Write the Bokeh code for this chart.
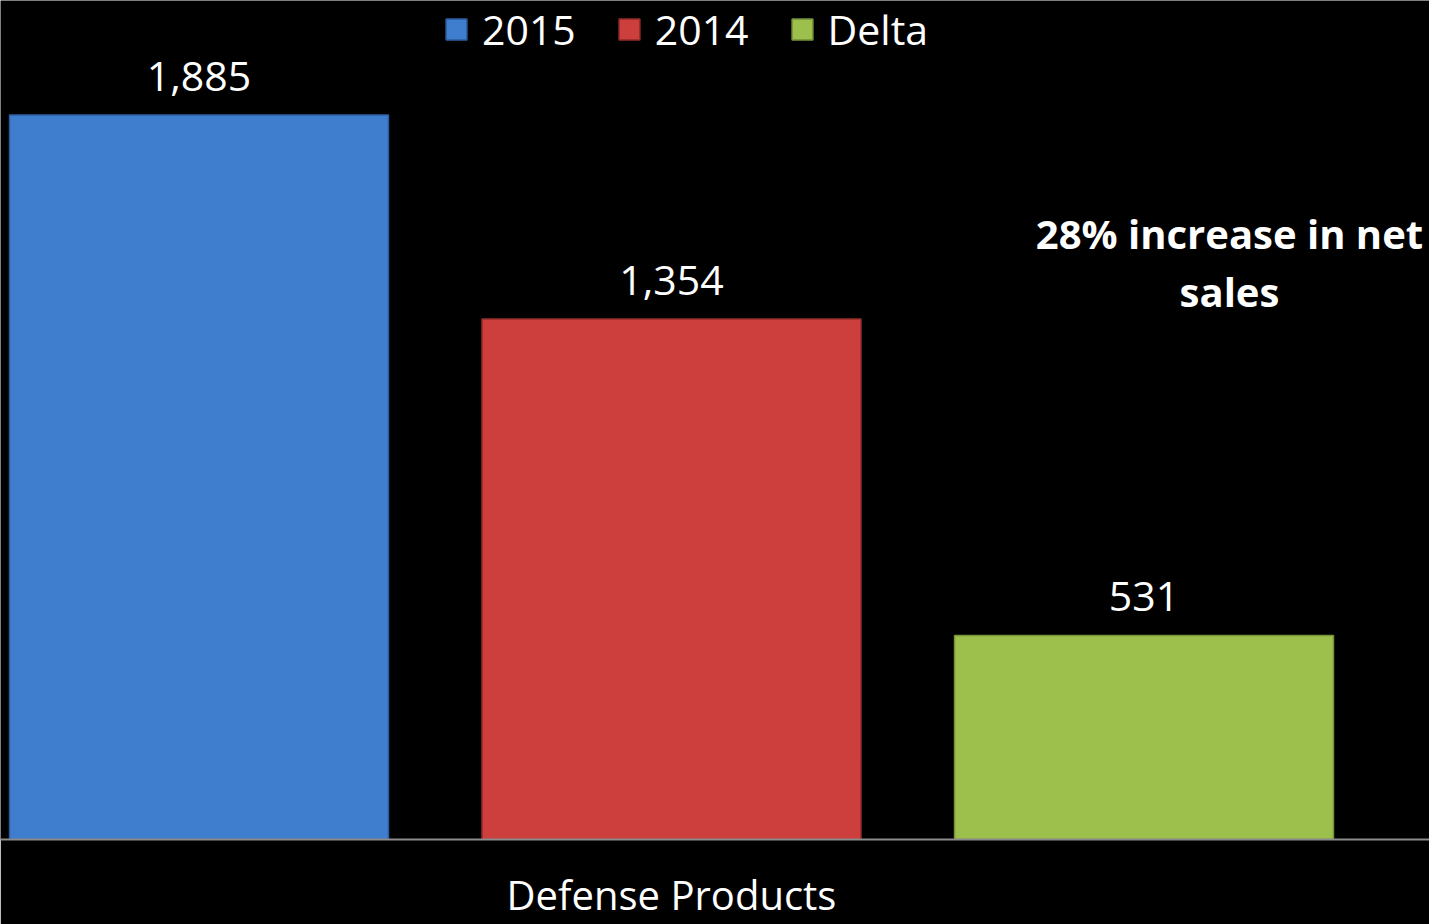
from bokeh.plotting import figure
from bokeh.models import (ColumnDataSource, Range1d, FixedTicker, LabelSet, Label,
                          Legend, LegendItem)
from bokeh.core.properties import value
from bokeh.embed import file_html
from bokeh.resources import INLINE

# ---- data ----
series = ["2015", "2014", "Delta"]
values = [1885, 1354, 531]
category = "Defense Products"
note = "28% increase in net\nsales"

# ---- styles ----
fill_colors = ["#3F7DCF", "#CC3F3C", "#9CC04B"]
edge_colors = ["#2E5E9E", "#962D2B", "#76933A"]
FONT = "Open Sans"

xs = list(range(len(series)))
src = ColumnDataSource(dict(
    x=xs, top=values, series=series,
    fill=fill_colors, edge=edge_colors,
    label=[f"{v:,}" for v in values],
))

p = figure(width=1429, height=924,
           x_range=Range1d(-0.4201, 2.6042), y_range=Range1d(0, 2183),
           output_backend="svg", toolbar_location=None,
           min_border_left=0, min_border_right=0, min_border_top=0, min_border_bottom=82)
p.background_fill_color = "black"
p.border_fill_color = "black"
p.outline_line_color = None
p.grid.visible = False
p.yaxis.visible = False

r = p.vbar(x="x", top="top", bottom=0, width=0.802, source=src,
           fill_color="fill", line_color="edge", line_width=1.5)

# x axis with category label
ax = p.xaxis[0]
ax.ticker = FixedTicker(ticks=[1])
ax.major_label_overrides = {1: category}
ax.major_tick_line_color = None
ax.major_tick_out = 0
ax.major_tick_in = 0
ax.minor_tick_line_color = None
ax.axis_line_color = "#8C8C8C"
ax.axis_line_width = 2
ax.major_label_text_font = FONT
ax.major_label_text_font_size = "40px"
ax.major_label_text_line_height = 1.0
ax.major_label_text_color = "white"
ax.major_label_standoff = 27

labels = LabelSet(x="x", y="top", text="label", source=src,
                  text_align="center", text_baseline="middle", y_offset=39,
                  text_color="white", text_font=value(FONT), text_font_size="41px")
p.add_layout(labels)

ann = Label(x=1229, y=577, x_units="screen", y_units="screen", text=note,
            text_align="center", text_baseline="middle", text_color="white",
            text_font=FONT, text_font_size="40px", text_font_style="bold",
            text_line_height=1.05)
p.add_layout(ann)

legend = Legend(items=[LegendItem(label=s, renderers=[r], index=i) for i, s in enumerate(series)],
                orientation="horizontal", location=(443, 782),
                background_fill_alpha=0, border_line_color=None,
                label_text_color="white", label_text_font=FONT, label_text_font_size="41px",
                glyph_width=26, glyph_height=26, label_standoff=13, spacing=40,
                padding=0, margin=0)
p.add_layout(legend)

open("out.html", "w").write(file_html(p, INLINE))
